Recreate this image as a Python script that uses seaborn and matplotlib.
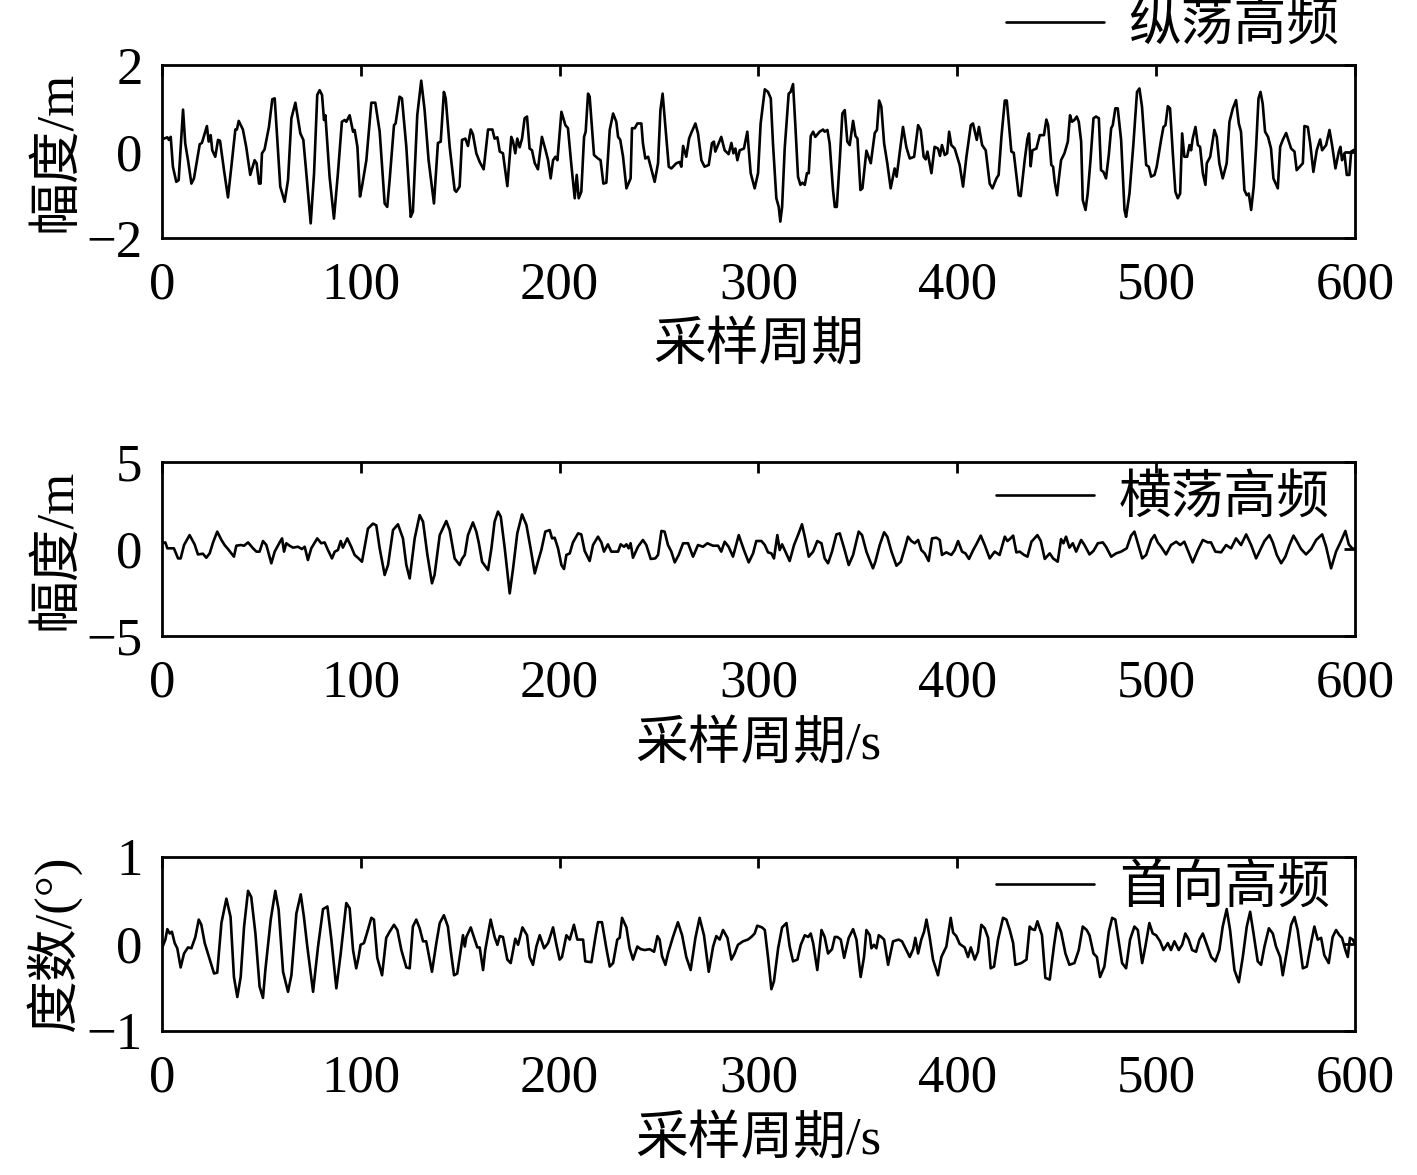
import matplotlib
matplotlib.use("Agg")
import matplotlib.pyplot as plt
import seaborn as sns

# values (x = sample index, y = amplitude)
x_surge = [0, 2.7, 3.5, 4.4, 5.5, 7.2, 8.4, 10.6, 11.7, 13.1,
           14.8, 16.1, 19.0, 20.1, 22.6, 23.5, 24.5, 25.3, 26.8, 28.2,
           29.2, 31.2, 33.2, 34.9, 36.9, 37.7, 38.6, 40.7, 42.4, 44.4,
           46.6, 47.6, 48.8, 49.6, 50.3, 51.6, 53.8, 55.5, 56.7, 59.5,
           61.7, 63.4, 65.1, 67.1, 69.6, 71.1, 72.6, 74.8, 76.5, 78.1,
           79.3, 80.5, 81.5, 82.2, 84.3, 86.5, 88.5, 90.5, 91.9, 92.7,
           94.4, 96.1, 96.9, 98.3, 99.6, 100.6, 102.8, 105.3, 107.3, 109.5,
           112.0, 113.3, 114.5, 116.7, 117.5, 119.5, 120.7, 122.9, 125.1, 126.2,
           128.4, 130.4, 132.1, 134.1, 136.8, 138.8, 140.2, 141.8, 142.7, 144.7,
           147.2, 148.0, 149.7, 150.9, 152.6, 153.9, 155.3, 156.4, 158.1, 159.8,
           161.8, 164.0, 166.2, 167.3, 168.7, 169.9, 171.5, 173.7, 175.7, 176.6,
           177.7, 178.7, 179.9, 181.1, 182.4, 183.6, 184.9, 186.1, 187.5, 189.1,
           191.1, 193.0, 194.2, 195.5, 196.7, 197.9, 198.9, 200.9, 202.9, 204.2,
           205.9, 207.6, 208.6, 209.6, 210.9, 212.3, 213.1, 214.3, 215.1, 217.3,
           219.3, 220.6, 222.0, 223.5, 225.2, 226.9, 228.5, 229.4, 230.5, 231.9,
           233.6, 235.7, 236.4, 237.8, 239.1, 241.1, 241.9, 243.1, 244.5, 245.8,
           247.8, 249.5, 250.7, 251.8, 253.2, 254.9, 256.2, 258.7, 260.4, 261.2,
           262.1, 263.7, 265.1, 266.2, 268.3, 269.6, 271.3, 272.9, 275.0, 276.6,
           277.6, 278.3, 281.3, 283.0, 285.0, 286.4, 287.4, 288.4, 289.4, 290.6,
           292.7, 294.4, 296.1, 298.1, 299.8, 301.1, 303.2, 304.8, 306.2, 307.3,
           309.0, 310.2, 311.0, 311.9, 313.2, 315.2, 316.2, 317.4, 318.6, 319.9,
           321.1, 322.1, 323.3, 324.4, 325.3, 326.3, 327.5, 328.6, 330.8, 332.5,
           333.3, 334.7, 335.8, 337.5, 338.4, 339.4, 340.9, 342.2, 343.4, 344.7,
           345.9, 347.6, 348.8, 349.8, 351.3, 352.3, 354.3, 356.5, 358.5, 359.6,
           360.7, 361.8, 363.2, 364.8, 366.5, 368.5, 369.5, 371.0, 372.7, 374.4,
           376.1, 378.3, 380.3, 381.6, 383.1, 384.1, 385.0, 387.0, 388.6, 390.3,
           391.3, 392.3, 393.7, 394.9, 395.9, 397.0, 398.7, 401.2, 402.9, 404.6,
           406.8, 407.9, 409.8, 410.9, 412.5, 414.3, 416.3, 417.7, 419.7, 420.8,
           422.2, 423.9, 424.9, 427.2, 428.4, 430.9, 431.9, 433.9, 435.3, 436.1,
           436.9, 437.8, 439.8, 441.5, 443.6, 444.8, 445.7, 447.3, 448.2, 449.0,
           450.2, 451.0, 452.2, 453.9, 455.6, 456.7, 457.7, 458.9, 460.1, 461.1,
           462.3, 463.1, 464.5, 465.6, 467.0, 468.5, 469.8, 471.2, 472.3, 473.5,
           474.8, 476.2, 477.4, 478.2, 479.5, 480.7, 482.4, 484.1, 484.9, 486.6,
           488.6, 490.4, 491.6, 492.9, 495.0, 496.3, 497.5, 499.2, 500.3, 502.5,
           503.7, 504.7, 505.9, 507.0, 508.4, 509.7, 510.9, 512.1, 513.1, 514.2,
           515.6, 516.8, 517.6, 518.4, 519.8, 521.0, 522.1, 523.5, 524.8, 525.5,
           527.2, 529.3, 530.5, 531.8, 533.5, 535.5, 536.9, 538.6, 540.2, 541.6,
           542.7, 544.4, 545.6, 546.6, 547.8, 549.1, 550.3, 551.5, 552.5, 553.6,
           554.8, 556.3, 557.8, 559.0, 561.2, 562.4, 563.7, 565.4, 567.1, 567.9,
           569.6, 570.7, 573.8, 574.6, 576.3, 577.5, 579.1, 580.8, 582.5, 583.5,
           585.5, 587.2, 588.5, 590.2, 591.9, 592.7, 593.5, 594.7, 595.9, 597.2,
           598.1, 600]
y_surge = [0.28, 0.33, 0.27, 0.34, -0.35, -0.70, -0.66, 0.97, 0.19, -0.20,
           -0.74, -0.62, 0.17, 0.20, 0.59, 0.23, 0.38, 0.03, -0.12, 0.27,
           0.25, -0.43, -1.06, -0.35, 0.51, 0.51, 0.71, 0.51, 0.10, -0.54,
           -0.20, -0.27, -0.74, -0.74, -0.04, 0.05, 0.57, 1.21, 1.23, -0.81,
           -1.16, -0.66, 0.77, 1.13, 0.42, 0.27, -0.50, -1.66, -0.50, 1.31,
           1.42, 1.31, 0.73, 0.84, -0.58, -1.55, -0.50, 0.69, 0.73, 0.69,
           0.84, 0.46, 0.50, 0.11, -1.04, -0.81, -0.20, 1.13, 1.13, 0.46,
           -1.20, -1.28, -0.66, 0.61, 0.65, 1.27, 1.23, 0.11, -1.51, -1.39,
           0.84, 1.64, 0.96, -0.20, -1.20, 0.20, 0.23, 1.38, 1.23, 0.11,
           -0.89, -0.93, -0.81, 0.27, 0.30, 0.13, 0.51, 0.40, -0.04, -0.24,
           -0.41, 0.51, 0.51, 0.30, 0.33, 0.00, -0.04, -0.80, 0.34, 0.23,
           -0.04, 0.30, 0.10, 0.30, 0.77, 0.81, 0.07, 0.03, -0.27, -0.41,
           0.34, 0.02, -0.20, -0.62, -0.20, -0.12, -0.20, 0.92, 0.61, 0.54,
           -0.31, -1.08, -0.54, -1.08, -0.93, 0.34, 0.46, 1.34, 1.27, -0.08,
           -0.16, -0.20, -0.74, -0.72, 0.50, 0.88, 0.69, 0.34, 0.27, -0.12,
           -0.85, -0.62, 0.54, 0.54, 0.65, 0.65, 0.19, -0.16, -0.12, -0.35,
           -0.70, -0.27, 0.96, 1.34, 0.57, -0.35, -0.39, -0.27, -0.24, -0.35,
           0.13, -0.12, 0.30, 0.43, 0.65, 0.42, -0.20, -0.35, -0.31, 0.19,
           0.23, 0.00, 0.34, 0.03, -0.06, 0.20, -0.04, 0.07, -0.20, 0.03,
           0.07, 0.46, -0.50, -0.85, -0.50, 0.65, 1.44, 1.38, 1.23, 0.19,
           -1.08, -1.28, -1.62, -1.28, 0.07, 1.34, 1.38, 1.56, 0.57, -0.58,
           -0.77, -0.72, -0.77, -0.50, -0.50, 0.36, 0.46, 0.34, 0.46, 0.51,
           0.46, 0.50, 0.19, -0.89, -1.28, -1.28, -0.20, 0.88, 0.96, 0.23,
           0.15, 0.71, 0.36, 0.30, -0.89, -0.85, 0.02, -0.27, 0.43, 0.50,
           1.18, 1.04, 0.19, -0.27, -0.85, -0.39, -0.58, -0.04, 0.57, 0.10,
           -0.16, -0.12, 0.61, 0.50, -0.12, -0.18, 0.00, -0.50, 0.11, 0.07,
           -0.10, 0.15, -0.08, -0.04, 0.46, 0.15, 0.07, -0.31, -0.81, -0.12,
           0.61, 0.65, 0.27, 0.57, 0.15, 0.03, -0.74, -0.85, -0.62, -0.54,
           0.34, 1.18, 1.18, 0.00, -0.03, -1.01, -1.03, -0.20, 0.30, 0.42,
           -0.34, 0.03, 0.07, 0.38, 0.38, 0.74, 0.61, -0.31, -0.35, -0.70,
           -1.01, -0.66, -0.20, -0.04, 0.23, 0.84, 0.69, 0.73, 0.81, 0.69,
           0.23, -1.12, -1.35, -0.97, -0.20, 0.77, 0.81, 0.77, -0.43, -0.47,
           -0.62, -0.08, 0.54, 0.61, 1.00, 1.00, 0.27, -1.35, -1.51, -0.97,
           0.19, 1.38, 1.46, 1.04, -0.31, -0.35, -0.58, -0.54, -0.35, 0.27,
           0.57, 0.61, 1.05, 1.00, -0.04, -0.93, -1.08, -0.97, 0.42, -0.12,
           -0.12, 0.15, 0.03, 0.30, 0.57, 0.15, 0.11, -0.50, -0.77, -0.27,
           -0.12, 0.50, 0.34, -0.27, -0.62, -0.27, 0.69, 1.00, 1.19, 0.65,
           0.46, -0.89, -1.01, -0.97, -1.35, -0.81, 0.11, 1.23, 1.38, 1.11,
           0.46, 0.34, 0.07, -0.62, -0.85, 0.11, 0.27, 0.43, 0.19, 0.07,
           0.00, -0.43, -0.27, 0.59, 0.57, 0.19, -0.47, 0.03, 0.28, 0.03,
           0.15, 0.50, 0.15, -0.39, 0.00, 0.11, -0.20, -0.04, -0.54, -0.54,
           0.00, 0.05]

x_sway = [0, 1.7, 2.7, 4.7, 6.0, 8.1, 9.4, 11.1, 13.9, 16.4,
          18.1, 20.6, 22.3, 24.0, 25.7, 27.8, 29.9, 31.5, 33.2, 36.2,
          37.4, 39.6, 41.3, 43.3, 45.8, 47.5, 49.1, 50.8, 52.5, 55.0,
          56.7, 59.2, 60.4, 61.4, 62.5, 64.2, 65.9, 68.4, 70.4, 71.8,
          73.4, 75.1, 78.1, 80.1, 81.8, 83.5, 85.5, 86.9, 88.5, 89.9,
          91.0, 93.2, 95.2, 96.9, 98.9, 100.6, 103.6, 106.1, 107.8, 109.5,
          112.0, 113.7, 116.2, 118.7, 121.2, 122.9, 124.6, 127.1, 129.6, 131.3,
          133.5, 135.8, 137.1, 139.7, 143.0, 144.7, 147.2, 149.7, 150.9, 152.3,
          153.9, 156.4, 158.1, 159.3, 161.0, 164.0, 165.7, 167.3, 169.0, 170.4,
          172.4, 174.9, 176.6, 178.7, 181.1, 183.3, 185.4, 187.5, 189.1, 190.8,
          192.8, 195.0, 196.2, 197.5, 199.2, 200.9, 202.2, 203.4, 205.1, 206.7,
          209.3, 210.9, 212.6, 215.1, 216.8, 219.3, 221.0, 222.3, 224.3, 226.0,
          229.4, 230.7, 232.4, 233.6, 234.7, 235.7, 236.9, 239.4, 241.9, 243.6,
          245.8, 248.1, 249.5, 251.2, 252.8, 254.5, 256.2, 257.9, 259.9, 262.1,
          264.6, 267.1, 269.6, 272.1, 274.3, 277.1, 279.7, 281.3, 283.0, 285.0,
          287.2, 290.1, 292.7, 295.1, 297.3, 298.9, 301.5, 303.2, 304.8, 306.5,
          307.8, 309.5, 310.7, 311.9, 313.2, 315.7, 317.9, 319.9, 321.9, 323.3,
          325.3, 327.5, 329.6, 331.7, 333.3, 335.0, 337.0, 339.2, 340.9, 343.1,
          345.4, 347.6, 350.4, 352.1, 354.3, 355.9, 357.6, 358.8, 361.0, 363.2,
          364.8, 366.9, 369.4, 371.6, 373.6, 375.2, 376.9, 378.6, 380.3, 381.9,
          383.6, 385.6, 387.3, 389.5, 391.2, 392.3, 394.5, 397.0, 398.7, 400.4,
          402.4, 404.1, 405.9, 408.0, 409.6, 411.8, 413.8, 416.3, 418.8, 421.3,
          423.9, 425.2, 426.4, 428.1, 429.7, 431.4, 433.6, 435.3, 437.3, 440.3,
          442.0, 444.0, 446.5, 448.2, 450.5, 452.2, 453.4, 454.7, 456.4, 458.1,
          459.8, 462.3, 464.0, 466.5, 468.5, 470.7, 473.2, 474.8, 477.4, 479.9,
          482.4, 485.2, 487.4, 489.1, 490.8, 493.0, 495.0, 497.5, 499.2, 500.8,
          502.5, 505.0, 507.5, 510.1, 512.1, 514.2, 515.9, 518.4, 521.0, 523.5,
          526.0, 527.6, 529.8, 532.7, 535.2, 537.7, 540.2, 542.7, 545.3, 547.8,
          550.3, 552.3, 554.5, 557.0, 558.7, 560.7, 562.9, 565.0, 567.1, 569.1,
          570.7, 572.9, 575.4, 578.0, 580.5, 583.5, 585.5, 588.0, 590.5, 593.0,
          595.2, 596.9, 598.6, 600]
y_sway = [0.33, 0.38, 0.04, 0.04, 0.04, -0.54, -0.54, 0.23, 0.80, 0.27,
          -0.31, -0.27, -0.50, -0.25, 0.38, 1.00, 0.52, 0.23, 0.00, -0.44,
          0.19, 0.23, 0.19, 0.38, 0.04, -0.15, -0.15, 0.46, 0.23, -0.82,
          -0.15, 0.38, 0.61, -0.15, 0.33, 0.19, 0.08, 0.13, 0.00, 0.13,
          -0.63, 0.04, 0.61, 0.33, 0.38, -0.06, -0.54, -0.15, -0.06, 0.46,
          0.08, 0.61, 0.13, -0.34, -0.54, -0.73, 1.17, 1.46, 1.36, 0.04,
          -1.49, -0.92, 1.09, 1.42, 0.61, -0.92, -1.69, 0.61, 1.95, 1.57,
          -0.34, -1.97, -1.49, 0.80, 1.61, 1.09, -0.54, -0.92, -0.57, -0.34,
          0.80, 1.53, 1.00, 0.38, -0.73, -1.21, 0.04, 1.57, 2.15, 1.86,
          0.04, -2.55, -1.11, 0.90, 1.99, 1.38, 0.04, -1.40, -0.73, -0.06,
          1.00, 1.09, 0.61, 0.65, 0.04, -0.92, -1.15, -0.34, -0.25, 0.38,
          0.90, 0.84, -0.11, -0.69, 0.23, 0.71, 0.38, -0.15, 0.27, -0.15,
          -0.15, 0.27, 0.13, 0.27, 0.04, 0.33, -0.50, 0.13, 0.52, 0.23,
          -0.57, -0.54, -0.34, 1.04, 1.00, 0.23, -0.15, -0.77, -0.34, 0.33,
          0.33, -0.44, 0.23, 0.13, 0.33, 0.19, 0.19, -0.15, 0.42, 0.13,
          -0.44, 0.80, -0.06, -0.77, -0.25, 0.46, 0.46, 0.23, -0.19, -0.25,
          -0.54, 0.80, -0.06, 0.27, -0.06, -0.69, 0.23, 0.80, 1.42, 0.71,
          -0.44, -0.15, 0.46, 0.33, -0.54, -0.82, -0.15, 0.84, 0.90, 0.04,
          -0.92, -0.34, 1.00, 0.80, -0.15, -0.63, -1.11, -0.73, 0.23, 0.96,
          0.71, -0.15, -0.96, -0.73, 0.04, 0.71, 0.46, 0.33, 0.52, -0.06,
          -0.25, -0.69, 0.61, 0.65, 0.52, -0.34, -0.19, -0.34, -0.06, 0.46,
          -0.15, -0.25, -0.57, -0.06, 0.27, 0.77, 0.23, -0.54, -0.15, -0.34,
          0.71, 0.46, 0.57, 0.77, -0.19, -0.15, -0.34, -0.44, 0.42, 0.80,
          0.46, -0.57, -0.25, -0.54, -0.73, 0.57, 0.33, 0.71, 0.08, 0.33,
          -0.15, 0.52, 0.23, -0.31, -0.11, 0.33, 0.38, 0.13, -0.44, -0.25,
          -0.15, 0.04, 0.77, 1.00, 0.33, -0.54, -0.34, 0.52, 0.80, 0.38,
          0.13, -0.31, 0.23, 0.42, 0.23, 0.42, -0.06, -0.77, -0.06, 0.52,
          0.38, 0.38, -0.15, -0.19, 0.23, 0.04, 0.61, 0.23, 0.84, 0.23,
          -0.54, -0.06, 0.46, 0.80, 0.38, -0.34, -0.82, -0.44, 0.23, 0.77,
          0.46, 0.00, -0.31, 0.00, 0.52, 0.84, 0.13, -1.11, -0.15, 0.46,
          1.04, 0.27, 0.04, 0.0]

x_yaw = [0, 1.7, 2.7, 3.9, 5.0, 6.4, 7.7, 9.4, 11.1, 13.1,
         14.8, 16.8, 18.5, 19.8, 21.5, 23.1, 24.8, 26.2, 27.8, 29.9,
         32.4, 34.5, 36.2, 37.9, 39.6, 41.3, 43.3, 44.9, 47.0, 49.1,
         50.8, 52.0, 54.7, 57.0, 58.7, 60.9, 63.4, 65.1, 67.6, 69.8,
         71.4, 73.1, 76.0, 78.5, 81.0, 83.2, 85.2, 87.7, 89.9, 92.7,
         94.4, 96.1, 97.7, 98.9, 99.9, 101.6, 103.3, 105.3, 106.6, 108.3,
         110.7, 112.8, 114.5, 116.7, 118.4, 120.4, 122.9, 124.6, 126.2, 127.9,
         129.6, 131.3, 132.9, 135.8, 138.0, 139.7, 141.8, 143.8, 145.2, 146.9,
         148.5, 151.4, 152.3, 153.1, 155.3, 156.9, 158.6, 159.8, 161.5, 162.6,
         165.3, 167.3, 168.7, 169.9, 171.5, 173.7, 175.4, 177.7, 179.1, 181.3,
         183.6, 184.9, 186.6, 188.3, 190.0, 192.2, 194.2, 196.7, 198.4, 200.0,
         201.2, 203.4, 205.1, 207.2, 208.9, 211.8, 212.9, 216.0, 218.0, 219.3,
         221.3, 223.5, 225.2, 226.9, 229.0, 230.2, 231.4, 233.6, 235.2, 236.9,
         239.1, 240.8, 242.8, 245.3, 247.5, 249.2, 250.3, 251.5, 253.2, 254.5,
         257.0, 259.5, 261.6, 263.7, 265.9, 268.3, 270.4, 272.6, 275.0, 277.2,
         278.8, 280.5, 282.2, 284.4, 286.4, 288.0, 289.7, 292.2, 294.7, 296.4,
         298.1, 299.4, 301.8, 303.2, 304.8, 306.5, 307.8, 309.9, 311.9, 314.1,
         315.7, 317.4, 319.6, 321.3, 323.3, 325.0, 326.3, 327.5, 329.6, 331.7,
         333.3, 335.0, 337.0, 338.4, 339.7, 341.4, 343.1, 345.4, 347.6, 349.3,
         351.4, 353.1, 354.3, 356.0, 356.8, 358.1, 359.3, 360.5, 361.8, 363.2,
         365.2, 367.7, 370.5, 372.2, 374.4, 376.1, 377.8, 378.9, 380.3, 381.9,
         383.3, 384.5, 386.1, 387.8, 390.3, 392.0, 394.5, 396.7, 397.9, 399.5,
         401.2, 403.7, 405.4, 406.8, 408.8, 410.4, 412.1, 413.8, 415.5, 416.8,
         418.5, 420.5, 423.0, 424.7, 426.4, 428.1, 429.2, 432.2, 434.8, 436.4,
         437.6, 439.0, 440.3, 442.6, 444.3, 446.5, 448.7, 450.3, 452.2, 454.4,
         456.4, 458.9, 461.1, 463.1, 465.1, 466.5, 468.5, 470.2, 471.8, 474.0,
         476.2, 477.9, 479.5, 481.2, 482.9, 484.9, 486.9, 489.1, 490.8, 493.0,
         494.6, 496.6, 498.3, 500.0, 502.0, 503.7, 505.9, 507.5, 509.2, 511.4,
         513.1, 514.7, 516.4, 518.1, 520.1, 521.8, 523.5, 525.5, 527.7, 529.8,
         531.8, 533.5, 535.5, 537.2, 539.4, 541.6, 543.6, 545.6, 547.3, 549.0,
         551.1, 552.8, 554.5, 556.7, 558.7, 560.3, 562.4, 563.7, 565.7, 567.9,
         569.6, 571.2, 573.8, 575.8, 578.0, 579.6, 581.3, 583.0, 584.6, 586.8,
         588.8, 590.5, 592.2, 593.5, 595.2, 596.4, 597.5, 598.9, 600]
y_yaw = [-0.05, 0.05, 0.17, 0.12, 0.14, 0.01, -0.05, -0.27, -0.11, -0.04,
         -0.05, 0.08, 0.28, 0.22, 0.01, -0.11, -0.24, -0.34, -0.33, 0.24,
         0.52, 0.31, -0.38, -0.61, -0.38, 0.20, 0.61, 0.54, 0.12, -0.49,
         -0.62, -0.30, 0.28, 0.61, 0.39, -0.32, -0.55, -0.36, 0.35, 0.57,
         0.31, -0.03, -0.55, -0.03, 0.40, 0.43, 0.05, -0.51, -0.11, 0.47,
         0.41, -0.07, -0.28, -0.15, -0.01, 0.01, 0.14, 0.30, 0.28, -0.16,
         -0.36, 0.07, 0.14, 0.22, 0.16, -0.07, -0.27, -0.28, 0.20, 0.28,
         0.18, 0.03, 0.03, -0.32, 0.01, 0.24, 0.33, 0.20, -0.07, -0.36,
         -0.34, 0.10, -0.03, 0.08, 0.19, 0.08, -0.04, -0.04, -0.30, -0.07,
         0.28, 0.08, -0.01, 0.09, 0.08, -0.18, -0.22, 0.06, -0.01, 0.19,
         0.10, -0.15, -0.24, -0.03, 0.10, -0.05, 0.01, 0.19, -0.01, -0.18,
         -0.15, 0.10, 0.05, 0.22, 0.05, 0.05, -0.20, -0.21, 0.08, 0.25,
         0.25, -0.05, -0.26, -0.22, 0.05, 0.07, 0.30, 0.19, -0.05, -0.18,
         -0.03, -0.06, -0.07, -0.06, -0.09, 0.09, 0.05, -0.14, -0.24, -0.11,
         0.08, 0.25, 0.10, -0.15, -0.30, 0.07, 0.30, 0.10, -0.32, -0.03,
         0.09, 0.05, 0.16, 0.07, -0.18, -0.11, -0.01, 0.03, 0.05, 0.08,
         0.12, 0.21, 0.19, 0.16, -0.15, -0.52, -0.43, -0.05, 0.19, 0.24,
         -0.03, -0.20, -0.18, -0.01, 0.10, 0.08, 0.12, 0.01, -0.30, 0.16,
         0.08, -0.11, -0.06, 0.08, 0.08, 0.05, -0.16, 0.07, 0.17, 0.05,
         -0.38, -0.15, 0.16, 0.10, -0.05, -0.01, -0.05, 0.10, 0.08, 0.05,
         -0.24, 0.03, 0.05, 0.03, -0.07, -0.15, -0.06, 0.07, -0.11, 0.05,
         0.14, 0.28, 0.08, -0.18, -0.36, -0.15, -0.03, 0.30, 0.13, 0.09,
         0.00, -0.04, -0.15, -0.04, -0.18, -0.09, 0.22, 0.18, 0.07, -0.28,
         -0.26, 0.05, 0.30, 0.28, 0.16, 0.01, -0.24, -0.22, -0.18, 0.20,
         0.17, 0.16, 0.26, 0.10, -0.39, -0.41, -0.01, 0.24, 0.14, -0.11,
         -0.24, -0.22, -0.07, 0.20, 0.16, 0.10, -0.11, -0.15, -0.38, -0.26,
         0.14, 0.30, 0.28, 0.03, -0.22, -0.28, 0.05, 0.20, 0.16, -0.22,
         -0.03, 0.24, 0.12, 0.10, 0.03, -0.07, 0.01, -0.07, 0.03, -0.07,
         -0.01, 0.12, 0.05, -0.07, -0.09, 0.05, 0.12, -0.01, -0.15, -0.20,
         -0.07, 0.20, 0.40, 0.16, -0.30, -0.44, -0.15, 0.20, 0.37, 0.12,
         -0.20, -0.24, -0.03, 0.18, 0.12, -0.03, -0.15, -0.36, -0.09, 0.22,
         0.31, 0.16, -0.28, -0.26, 0.02, 0.20, 0.05, 0.07, -0.13, -0.22,
         0.08, 0.16, 0.10, 0.07, -0.07, -0.15, 0.07, 0.05, 0.0]

names = ["纵荡高频", "横荡高频", "首向高频"]
ylabels = ["幅度/m", "幅度/m", "度数/(°)"]
xlabels = ["采样周期", "采样周期/s", "采样周期/s"]
xticks = [0, 100, 200, 300, 400, 500, 600]
yticks = [[-2, 0, 2], [-5, 0, 5], [-1, 0, 1]]

sns.set_style("white")
plt.rcParams["font.family"] = ["Liberation Serif", "Noto Sans CJK SC"]
plt.rcParams["text.color"] = "black"
plt.rcParams["axes.labelcolor"] = "black"

fig = plt.figure(figsize=(14.17, 11.75), dpi=100)

rects = [[0.1143, 0.7974, 0.8419, 0.1472],
         [0.1143, 0.4587, 0.8419, 0.1481],
         [0.1143, 0.1226, 0.8419, 0.1481]]
legend_pos = [(0.987, 1.22), (0.979, 0.78), (0.979, 0.815)]
series = [(x_surge, y_surge), (x_sway, y_sway), (x_yaw, y_yaw)]
fs = 38

for i in range(3):
    ax = fig.add_axes(rects[i])
    xs, ys = series[i]
    sns.lineplot(x=xs, y=ys, ax=ax, color="black", linewidth=1.9,
                 estimator=None, sort=False, label=names[i])
    ax.set_xlim(0, 600)
    ax.set_ylim(yticks[i][0], yticks[i][-1])
    ax.set_xticks(xticks)
    ax.set_yticks(yticks[i])
    ax.tick_params(direction="in", length=8, width=2, top=True, right=True,
                   labelsize=fs, colors="black")
    ax.tick_params(axis="x", pad=17)
    ax.tick_params(axis="y", pad=14)
    for s in ax.spines.values():
        s.set_linewidth(2)
        s.set_color("black")
    ax.set_xlabel(xlabels[i], fontsize=fs)
    ax.set_ylabel(ylabels[i], fontsize=fs)
    ax.xaxis.set_label_coords(0.5, -0.49)
    ax.yaxis.set_label_coords(-0.068, 0.5)
    ax.legend(loc="center right", bbox_to_anchor=legend_pos[i], frameon=False,
              fontsize=fs, handlelength=1.85, handletextpad=0.47,
              borderpad=0, borderaxespad=0)

fig.savefig("out.png", dpi=100)
